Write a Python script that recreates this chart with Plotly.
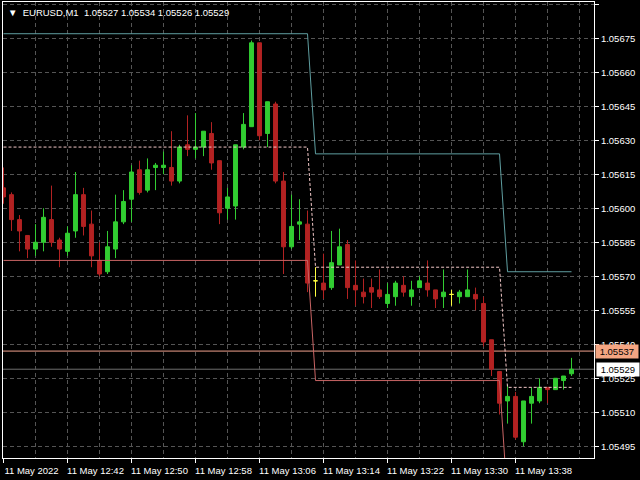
import pandas as pd
import plotly.graph_objects as go

symbol = "EURUSD"
timeframe = "M1"
start_time = "2022-05-11 12:34"

opens = [1.05609, 1.05606, 1.05595, 1.05588, 1.05582, 1.05585, 1.05595, 1.05586, 1.05581, 1.05590,
         1.05606, 1.05593, 1.05577, 1.05572, 1.05582, 1.05594, 1.05604, 1.05617, 1.05608, 1.05618,
         1.05618, 1.05618, 1.05612, 1.05628, 1.05626, 1.05627, 1.05633, 1.05621, 1.05600, 1.05601,
         1.05627, 1.05636, 1.05673, 1.05633, 1.05646, 1.05612, 1.05583, 1.05593, 1.05593, 1.05568,
         1.05567, 1.05565, 1.05575, 1.05584, 1.05566, 1.05563, 1.05565, 1.05564, 1.05558, 1.05561,
         1.05566, 1.05561, 1.05565, 1.05567, 1.05564, 1.05561, 1.05562, 1.05561, 1.05561, 1.05562,
         1.05558, 1.05542, 1.05528, 1.05515, 1.05517, 1.05497, 1.05514, 1.05515, 1.05521, 1.05520,
         1.05524, 1.05527]
highs = [1.05618, 1.05607, 1.05597, 1.05588, 1.05593, 1.05600, 1.05610, 1.05587, 1.05592, 1.05616,
         1.05609, 1.05599, 1.05585, 1.05590, 1.05606, 1.05608, 1.05619, 1.05621, 1.05622, 1.05620,
         1.05625, 1.05634, 1.05628, 1.05641, 1.05642, 1.05634, 1.05638, 1.05621, 1.05609, 1.05628,
         1.05642, 1.05674, 1.05673, 1.05647, 1.05647, 1.05616, 1.05606, 1.05604, 1.05599, 1.05574,
         1.05580, 1.05590, 1.05591, 1.05586, 1.05577, 1.05569, 1.05569, 1.05573, 1.05567, 1.05568,
         1.05570, 1.05568, 1.05570, 1.05577, 1.05564, 1.05573, 1.05564, 1.05564, 1.05573, 1.05565,
         1.05561, 1.05542, 1.05528, 1.05522, 1.05519, 1.05515, 1.05521, 1.05525, 1.05521, 1.05525,
         1.05526, 1.05534]
lows = [1.05602, 1.05590, 1.05581, 1.05578, 1.05579, 1.05581, 1.05583, 1.05574, 1.05579, 1.05587,
        1.05588, 1.05574, 1.05570, 1.05571, 1.05578, 1.05593, 1.05594, 1.05606, 1.05607, 1.05608,
        1.05615, 1.05610, 1.05611, 1.05623, 1.05622, 1.05623, 1.05617, 1.05593, 1.05595, 1.05595,
        1.05626, 1.05636, 1.05630, 1.05627, 1.05611, 1.05571, 1.05582, 1.05586, 1.05563, 1.05561,
        1.05560, 1.05564, 1.05575, 1.05560, 1.05557, 1.05558, 1.05556, 1.05560, 1.05556, 1.05557,
        1.05561, 1.05557, 1.05565, 1.05561, 1.05556, 1.05556, 1.05557, 1.05558, 1.05561, 1.05555,
        1.05539, 1.05526, 1.05509, 1.05505, 1.05498, 1.05495, 1.05505, 1.05514, 1.05514, 1.05520,
        1.05520, 1.05526]
closes = [1.05605, 1.05595, 1.05590, 1.05582, 1.05585, 1.05596, 1.05585, 1.05582, 1.05589, 1.05606,
          1.05592, 1.05579, 1.05571, 1.05583, 1.05594, 1.05603, 1.05616, 1.05607, 1.05617, 1.05619,
          1.05619, 1.05612, 1.05627, 1.05626, 1.05627, 1.05634, 1.05620, 1.05598, 1.05605, 1.05628,
          1.05637, 1.05673, 1.05632, 1.05647, 1.05612, 1.05583, 1.05592, 1.05594, 1.05567, 1.05568,
          1.05564, 1.05576, 1.05583, 1.05565, 1.05564, 1.05561, 1.05563, 1.05561, 1.05562, 1.05567,
          1.05563, 1.05564, 1.05568, 1.05564, 1.05560, 1.05563, 1.05562, 1.05563, 1.05564, 1.05560,
          1.05541, 1.05529, 1.05514, 1.05517, 1.05499, 1.05515, 1.05517, 1.05521, 1.05520, 1.05525,
          1.05526, 1.05529]

# channel indicator levels (step lines), one value per bar
upper_line = [1.05677] * 39 + [1.05624] * 24 + [1.05572] * 9
middle_line = [1.05627] * 39 + [1.05574] * 24 + [1.05521] * 9
lower_line = [1.05577] * 39 + [1.05524] * 24 + [1.05471] * 9

ask_price = 1.05537
bid_price = 1.05529

label_times = ["2022-05-11 12:34", "2022-05-11 12:42", "2022-05-11 12:50", "2022-05-11 12:58",
               "2022-05-11 13:06", "2022-05-11 13:14", "2022-05-11 13:22", "2022-05-11 13:30",
               "2022-05-11 13:38"]
label_texts = ["11 May 2022", "11 May 12:42", "11 May 12:50", "11 May 12:58", "11 May 13:06",
               "11 May 13:14", "11 May 13:22", "11 May 13:30", "11 May 13:38"]

y_range = [1.0548983, 1.0569100]

times = pd.date_range(start_time, periods=len(opens), freq="min")
t0 = pd.Timestamp(start_time)
x_range = [t0 - pd.Timedelta(seconds=3.75), t0 + pd.Timedelta(seconds=73.81 * 60)]

BULL = "#32cd32"
BEAR = "#b22222"
DOJI = "#ffff40"
FONT = "Liberation Sans, Arial"

fig = go.Figure()

fig.add_trace(go.Scatter(x=times, y=upper_line, mode="lines",
                         line=dict(color="#5f9ea0", width=1), hoverinfo="skip"))
fig.add_trace(go.Scatter(x=times, y=lower_line, mode="lines",
                         line=dict(color="#c86464", width=1), hoverinfo="skip"))
fig.add_trace(go.Scatter(x=times, y=middle_line, mode="lines",
                         line=dict(color="#f2c8c8", width=1, dash="3px,2px"), hoverinfo="skip"))

def subset(cond):
    idx = [i for i in range(len(opens)) if cond(opens[i], closes[i])]
    return ([times[i] for i in idx], [opens[i] for i in idx], [highs[i] for i in idx],
            [lows[i] for i in idx], [closes[i] for i in idx])

for cond, col in [(lambda o, c: c > o, BULL), (lambda o, c: c < o, BEAR), (lambda o, c: c == o, DOJI)]:
    xs, os_, hs, ls, cs = subset(cond)
    fig.add_trace(go.Candlestick(
        x=xs, open=os_, high=hs, low=ls, close=cs,
        increasing=dict(line=dict(color=col, width=1), fillcolor=col),
        decreasing=dict(line=dict(color=col, width=1), fillcolor=col),
        hoverinfo="skip"))

fig.add_shape(type="line", xref="paper", x0=0, x1=1, yref="y", y0=ask_price, y1=ask_price,
              line=dict(color="#f0a08c", width=1), layer="below")
fig.add_shape(type="line", xref="paper", x0=0, x1=1, yref="y", y0=bid_price, y1=bid_price,
              line=dict(color="#6e6e6e", width=1), layer="below")

fig.add_annotation(xref="paper", x=1, xanchor="left", xshift=1, yref="y", y=ask_price,
                   text=f"\u00a0{ask_price:.5f}\u00a0", showarrow=False, bgcolor="#f4a582",
                   font=dict(color="black", size=9.5, family=FONT), borderpad=1)
fig.add_annotation(xref="paper", x=1, xanchor="left", xshift=2, yref="y", y=bid_price,
                   text=f"\u00a0{bid_price:.5f}\u00a0", showarrow=False, bgcolor="white",
                   font=dict(color="black", size=9.5, family=FONT), borderpad=1)

title = (f"\u25bc\u00a0\u00a0{symbol},{timeframe}\u00a0\u00a0{opens[-1]:.5f} {highs[-1]:.5f} "
         f"{lows[-1]:.5f} {closes[-1]:.5f}")
fig.add_annotation(xref="paper", yref="paper", x=0, y=1, xanchor="left", yanchor="top",
                   xshift=3, yshift=-3, text=title, showarrow=False,
                   font=dict(color="white", size=9.5, family=FONT))

fig.update_layout(
    width=640, height=480,
    margin=dict(l=3, r=46, t=2, b=22, autoexpand=False),
    paper_bgcolor="black", plot_bgcolor="black",
    showlegend=False, hovermode=False,
    font=dict(family=FONT, size=9.5, color="white"),
)
fig.update_xaxes(
    type="date", range=x_range, rangeslider=dict(visible=False),
    tickmode="array", tickvals=label_times, ticktext=label_texts,
    ticks="outside", ticklen=4, tickcolor="white", ticklabelshift=28,
    showgrid=False, zeroline=False, automargin=False,
    showline=True, linecolor="white", linewidth=1, mirror=True,
    minor=dict(dtick=240000, tick0=start_time, showgrid=True, gridcolor="#555555",
               griddash="4px,3px", gridwidth=1, ticks=""),
    tickfont=dict(color="white", size=9.5),
)
fig.update_yaxes(
    side="right", range=y_range, tick0=1.05495, dtick=0.00015, tickformat=".5f",
    ticks="outside", ticklen=4, tickcolor="white", automargin=False,
    showgrid=True, gridcolor="#555555", griddash="4px,3px", gridwidth=1, zeroline=False,
    showline=True, linecolor="white", linewidth=1, mirror=True,
    tickfont=dict(color="white", size=9.5),
)

fig.write_html("out.html", config={"displayModeBar": False},
               post_script="document.body.style.margin='0';document.body.style.background='black';")
